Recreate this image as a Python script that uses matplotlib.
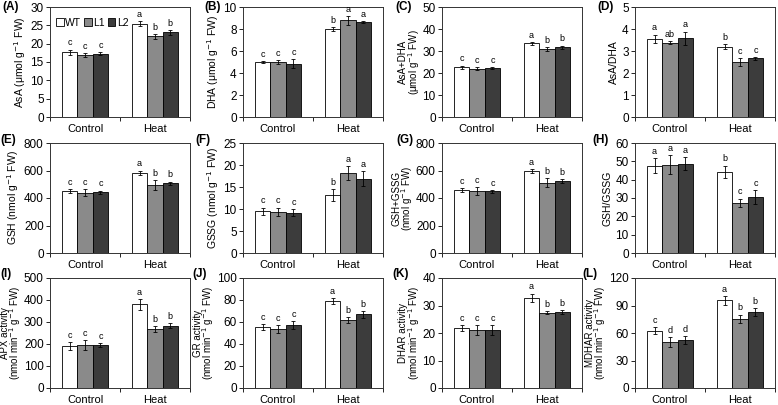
import numpy as np
import matplotlib
matplotlib.use("Agg")
import matplotlib.pyplot as plt
from matplotlib.patches import Patch

plt.rcParams['font.family'] = ['Liberation Sans', 'DejaVu Sans']

groups = ['Control', 'Heat']
lines = ['WT', 'L1', 'L2']
colors = ['white', '#8a8a8a', '#3c3c3c']

# panel data: means [group][line], sd, letters
asa = [[17.6, 16.9, 17.2], [25.5, 22.0, 23.1]]
asa_sd = [[0.8, 0.6, 0.4], [0.7, 0.7, 0.7]]
asa_let = [['c', 'c', 'c'], ['a', 'b', 'b']]

dha = [[5.0, 5.0, 4.85], [8.0, 8.8, 8.65]]
dha_sd = [[0.1, 0.15, 0.4], [0.2, 0.4, 0.08]]
dha_let = [['c', 'c', 'c'], ['b', 'a', 'a']]

asa_dha = [[22.6, 21.9, 22.1], [33.5, 30.8, 31.8]]
asa_dha_sd = [[0.8, 0.7, 0.5], [0.6, 0.8, 0.7]]
asa_dha_let = [['c', 'c', 'c'], ['a', 'b', 'b']]

ratio_asa = [[3.55, 3.38, 3.58], [3.2, 2.5, 2.67]]
ratio_asa_sd = [[0.2, 0.08, 0.3], [0.12, 0.18, 0.06]]
ratio_asa_let = [['a', 'ab', 'a'], ['b', 'c', 'c']]

gsh = [[448, 440, 442], [585, 495, 508]]
gsh_sd = [[15, 25, 12], [15, 35, 12]]
gsh_let = [['c', 'c', 'c'], ['a', 'b', 'b']]

gssg = [[9.5, 9.3, 9.1], [13.2, 18.2, 16.9]]
gssg_sd = [[0.8, 1.0, 0.8], [1.4, 1.5, 1.7]]
gssg_let = [['c', 'c', 'c'], ['b', 'a', 'a']]

gsh_gssg = [[458, 450, 450], [598, 512, 524]]
gsh_gssg_sd = [[15, 28, 10], [15, 35, 15]]
gsh_gssg_let = [['c', 'c', 'c'], ['a', 'b', 'b']]

ratio_gsh = [[47.7, 48.2, 48.8], [44.3, 27.3, 30.5]]
ratio_gsh_sd = [[4.0, 5.0, 3.4], [3.4, 2.4, 3.6]]
ratio_gsh_let = [['a', 'a', 'a'], ['b', 'c', 'c']]

apx = [[190, 195, 195], [380, 268, 284]]
apx_sd = [[18, 22, 10], [25, 15, 10]]
apx_let = [['c', 'c', 'c'], ['a', 'b', 'b']]

gr = [[55.5, 53.5, 57.0], [79.0, 62.0, 67.0]]
gr_sd = [[2.5, 3.5, 3.5], [2.5, 2.5, 3.0]]
gr_let = [['c', 'c', 'c'], ['a', 'b', 'b']]

dhar = [[21.8, 21.0, 21.2], [32.8, 27.4, 27.6]]
dhar_sd = [[1.2, 1.8, 1.8], [1.5, 0.5, 0.6]]
dhar_let = [['c', 'c', 'c'], ['a', 'b', 'b']]

mdhar = [[62.5, 50.0, 52.5], [95.5, 75.5, 83.0]]
mdhar_sd = [[4.0, 5.5, 4.0], [5.0, 4.5, 4.0]]
mdhar_let = [['c', 'd', 'd'], ['a', 'b', 'b']]

panels = [
    ('(A)', asa, asa_sd, asa_let, 30, 5, 'AsA (μmol g$^{-1}$ FW)'),
    ('(B)', dha, dha_sd, dha_let, 10, 2, 'DHA (μmol g$^{-1}$ FW)'),
    ('(C)', asa_dha, asa_dha_sd, asa_dha_let, 50, 10, 'AsA+DHA\n(μmol g$^{-1}$ FW)'),
    ('(D)', ratio_asa, ratio_asa_sd, ratio_asa_let, 5, 1, 'AsA/DHA'),
    ('(E)', gsh, gsh_sd, gsh_let, 800, 200, 'GSH (nmol g$^{-1}$ FW)'),
    ('(F)', gssg, gssg_sd, gssg_let, 25, 5, 'GSSG (nmol g$^{-1}$ FW)'),
    ('(G)', gsh_gssg, gsh_gssg_sd, gsh_gssg_let, 800, 200, 'GSH+GSSG\n(nmol g$^{-1}$ FW)'),
    ('(H)', ratio_gsh, ratio_gsh_sd, ratio_gsh_let, 60, 10, 'GSH/GSSG'),
    ('(I)', apx, apx_sd, apx_let, 500, 100, 'APX activity\n(nmol min$^{-1}$ g$^{-1}$ FW)'),
    ('(J)', gr, gr_sd, gr_let, 100, 20, 'GR activity\n(nmol min$^{-1}$ g$^{-1}$ FW)'),
    ('(K)', dhar, dhar_sd, dhar_let, 40, 10, 'DHAR activity\n(nmol min$^{-1}$ g$^{-1}$ FW)'),
    ('(L)', mdhar, mdhar_sd, mdhar_let, 120, 30, 'MDHAR activity\n(nmol min$^{-1}$ g$^{-1}$ FW)'),
]

W, H = 778, 405
fig = plt.figure(figsize=(W / 100, H / 100), dpi=100)

lefts = [50, 243, 442, 635]
tag_x = [[2, 204, 395, 597], [0, 195, 396, 592], [0, 192, 392, 582]]
tag_y = [7, 140, 274]
tops = [7, 143, 278]
aw, ah = 140, 110
bw = 0.22

for i, (tag, vals, sds, lets, ymax, step, ylab) in enumerate(panels):
    r, c = divmod(i, 4)
    ax = fig.add_axes([lefts[c] / W, 1 - (tops[r] + ah) / H, aw / W, ah / H])
    vals = np.array(vals)
    sds = np.array(sds)
    x = np.arange(len(groups))
    for k in range(3):
        xs = x + (k - 1) * bw
        ax.bar(xs, vals[:, k], bw, color=colors[k], edgecolor='black', linewidth=0.6,
               label=lines[k], zorder=2)
        ax.errorbar(xs, vals[:, k], yerr=sds[:, k], fmt='none', ecolor='black',
                    elinewidth=0.6, capsize=1.5, capthick=0.6, zorder=3)
        for g in range(len(groups)):
            ax.text(xs[g], vals[g, k] + sds[g, k] + ymax * 0.02, lets[g][k],
                    ha='center', va='bottom', fontsize=6.5)
    ax.set_xlim(-0.5, 1.5)
    ax.set_ylim(0, ymax)
    ax.set_yticks(np.arange(0, ymax + step / 2, step))
    ax.set_xticks(x)
    ax.set_xticklabels(groups, fontsize=8)
    ax.set_xticks([-0.5, 0.5, 1.5], minor=True)
    ax.tick_params(axis='x', which='major', length=0, pad=5)
    ax.tick_params(axis='x', which='minor', length=3, width=0.6, direction='out')
    ax.tick_params(axis='y', labelsize=8.5, length=3, width=0.6, direction='out', pad=1.5)
    for s in ax.spines.values():
        s.set_linewidth(0.7)
        s.set_color('#333333')
    two = '\n' in ylab
    ax.set_ylabel(ylab, fontsize=7 if two else 7.5, labelpad=0.5 if two else 2,
                  linespacing=0.82)
    fig.text(tag_x[r][c] / W, 1 - tag_y[r] / H, tag, fontsize=8.5, fontweight='bold',
             ha='left', va='center')
    if i == 0:
        handles = [Patch(facecolor=colors[k], edgecolor='black', linewidth=0.6)
                   for k in range(3)]
        ax.legend(handles, lines, loc='upper left', ncol=3, frameon=False, fontsize=7.5,
                  handlelength=0.7, handleheight=0.7, handletextpad=0.15,
                  columnspacing=0.3, borderaxespad=0.2, bbox_to_anchor=(0.0, 0.96))

fig.savefig('out.png', dpi=100)
